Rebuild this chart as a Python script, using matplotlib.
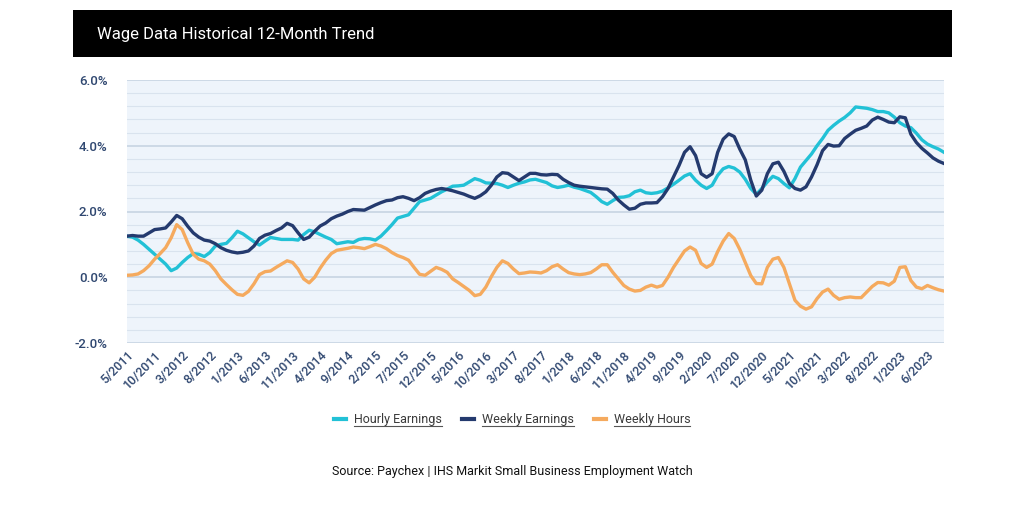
import numpy as np
import matplotlib
matplotlib.use('Agg')
import matplotlib.pyplot as plt
from matplotlib.patches import Rectangle
from matplotlib.lines import Line2D

plt.rcParams['font.family'] = ['Roboto', 'DejaVu Sans']

# monthly values, 5/2011 .. 9/2023 (percent, 12-month change)
hourly = [1.25, 1.22, 1.13, 1.0, 0.85, 0.7, 0.55, 0.4, 0.2, 0.28,
          0.45, 0.6, 0.72, 0.7, 0.63, 0.75, 0.95, 1.0, 1.03, 1.2,
          1.4, 1.32, 1.2, 1.08, 0.98, 1.1, 1.21, 1.18, 1.15, 1.15,
          1.15, 1.13, 1.3, 1.43, 1.38, 1.3, 1.22, 1.15, 1.02, 1.05,
          1.08, 1.06, 1.15, 1.18, 1.17, 1.13, 1.25, 1.42, 1.6, 1.8,
          1.85, 1.9, 2.1, 2.3, 2.35, 2.4, 2.5, 2.6, 2.68, 2.77,
          2.78, 2.8, 2.9, 3.0, 2.95, 2.87, 2.86, 2.85, 2.8, 2.73,
          2.8, 2.86, 2.9, 2.96, 2.98, 2.93, 2.88, 2.78, 2.73, 2.76,
          2.8, 2.74, 2.7, 2.64, 2.58, 2.45, 2.3, 2.22, 2.33, 2.43,
          2.44, 2.48, 2.6, 2.65, 2.57, 2.55, 2.57, 2.62, 2.72, 2.83,
          2.95, 3.08, 3.15, 2.95, 2.8, 2.7, 2.8, 3.1, 3.3, 3.37,
          3.32, 3.2, 2.98, 2.7, 2.52, 2.7, 2.9, 3.07, 3.0, 2.85,
          2.72, 3.0, 3.35, 3.55, 3.75, 4.0, 4.22, 4.47, 4.62, 4.75,
          4.86, 5.0, 5.18, 5.16, 5.14, 5.1, 5.04, 5.04, 5.0, 4.87,
          4.7, 4.6, 4.55, 4.38, 4.18, 4.05, 3.97, 3.9, 3.8]

weekly = [1.25, 1.27, 1.25, 1.25, 1.35, 1.45, 1.47, 1.5, 1.68, 1.88,
          1.78, 1.55, 1.35, 1.22, 1.13, 1.1, 1.02, 0.9, 0.82, 0.77,
          0.74, 0.76, 0.8, 0.95, 1.18, 1.28, 1.33, 1.42, 1.5, 1.64,
          1.57, 1.35, 1.15, 1.22, 1.4, 1.56, 1.65, 1.78, 1.86, 1.92,
          2.0, 2.06, 2.05, 2.04, 2.12, 2.2, 2.27, 2.33, 2.35, 2.42,
          2.45, 2.4, 2.33, 2.42, 2.55, 2.62, 2.67, 2.7, 2.67, 2.63,
          2.58, 2.53, 2.46, 2.4, 2.48, 2.6, 2.8, 3.05, 3.18, 3.16,
          3.05, 2.94, 3.05, 3.16, 3.16, 3.12, 3.11, 3.13, 3.12, 2.98,
          2.88, 2.8, 2.77, 2.75, 2.73, 2.71, 2.69, 2.68, 2.55, 2.35,
          2.2, 2.07, 2.1, 2.22, 2.26, 2.26, 2.27, 2.45, 2.7, 3.05,
          3.4, 3.8, 3.97, 3.7, 3.15, 3.04, 3.15, 3.8, 4.2, 4.36,
          4.28, 3.9, 3.57, 2.95, 2.47, 2.65, 3.15, 3.45, 3.5, 3.22,
          2.85, 2.7, 2.65, 2.75, 3.05, 3.42, 3.85, 4.04, 3.99, 4.0,
          4.22, 4.35, 4.47, 4.53, 4.6, 4.78, 4.87, 4.8, 4.72, 4.7,
          4.88, 4.85, 4.35, 4.1, 3.92, 3.78, 3.63, 3.53, 3.46]

hours = [0.06, 0.07, 0.1, 0.2, 0.35, 0.55, 0.72, 0.9, 1.2, 1.6,
         1.45, 1.05, 0.7, 0.55, 0.5, 0.4, 0.2, -0.05, -0.22, -0.38,
         -0.52, -0.55, -0.43, -0.2, 0.08, 0.17, 0.19, 0.3, 0.4, 0.5,
         0.45, 0.25, -0.05, -0.17, 0.0, 0.28, 0.52, 0.72, 0.82, 0.85,
         0.88, 0.92, 0.9, 0.87, 0.93, 1.0, 0.95, 0.87, 0.75, 0.66,
         0.6, 0.52, 0.3, 0.09, 0.06, 0.18, 0.3, 0.24, 0.15, -0.05,
         -0.16, -0.28, -0.4, -0.56, -0.52, -0.3, 0.02, 0.3, 0.5, 0.42,
         0.25, 0.11, 0.13, 0.16, 0.15, 0.13, 0.2, 0.32, 0.38, 0.25,
         0.14, 0.1, 0.08, 0.1, 0.14, 0.25, 0.38, 0.38, 0.15, -0.05,
         -0.25, -0.36, -0.42, -0.4, -0.3, -0.24, -0.3, -0.25, 0.0, 0.3,
         0.55, 0.8, 0.92, 0.82, 0.42, 0.3, 0.4, 0.78, 1.1, 1.33,
         1.18, 0.85, 0.45, 0.05, -0.19, -0.2, 0.3, 0.55, 0.6, 0.3,
         -0.2, -0.7, -0.88, -0.97, -0.9, -0.65, -0.45, -0.36, -0.55, -0.67,
         -0.62, -0.6, -0.62, -0.62, -0.45, -0.28, -0.16, -0.17, -0.24, -0.12,
         0.3, 0.32, -0.1, -0.3, -0.35, -0.25, -0.32, -0.38, -0.42]

tick_labels = ['5/2011', '10/2011', '3/2012', '8/2012', '1/2013', '6/2013',
               '11/2013', '4/2014', '9/2014', '2/2015', '7/2015', '12/2015',
               '5/2016', '10/2016', '3/2017', '8/2017', '1/2018', '6/2018',
               '11/2018', '4/2019', '9/2019', '2/2020', '7/2020', '12/2020',
               '5/2021', '10/2021', '3/2022', '8/2022', '1/2023', '6/2023']
series_names = ['Hourly Earnings', 'Weekly Earnings', 'Weekly Hours']
colors = ['#22c1d6', '#243a6e', '#f5aa5e']
navy_txt = '#2f4770'

fig = plt.figure(figsize=(10.24, 5.12), dpi=100)
fig.patch.set_facecolor('white')

# black header bar
fig.add_artist(Rectangle((73/1024, 1-57/512), (952-73)/1024, 47/512,
                         transform=fig.transFigure, facecolor='black', edgecolor='none'))
fig.text(97/1024, 1-34/512, 'Wage Data Historical 12-Month Trend', color='white',
         fontsize=12, va='center', ha='left')

ax = fig.add_axes([127/1024, 1-343/512, 817/1024, 263/512])
ax.set_facecolor('#eef4fb')
x = np.arange(len(hourly))
for vals, c, name in zip([hourly, weekly, hours], colors, series_names):
    ax.plot(x, vals, color=c, lw=2.4, label=name, solid_joinstyle='round')

ax.set_xlim(0, len(hourly) - 1)
ax.set_ylim(-2, 6)
ax.set_yticks([-2, 0, 2, 4, 6])
ax.set_yticklabels(['%.1f%%' % v for v in [-2, 0, 2, 4, 6]])
ax.set_yticks(np.arange(-2, 6.01, 0.4), minor=True)
ax.grid(which='major', axis='y', color='#c3d2e0', lw=1.1)
ax.grid(which='minor', axis='y', color='#d9e3ee', lw=0.8)
ax.set_axisbelow(True)
ax.set_xticks(np.arange(0, len(hourly), 5))
ax.set_xticklabels(tick_labels, rotation=45, ha='right', rotation_mode='anchor')
ax.tick_params(axis='both', which='both', length=0, colors=navy_txt)
ax.tick_params(axis='y', pad=14, labelsize=9.5)
ax.tick_params(axis='x', pad=4, labelsize=9)
for lab in ax.get_yticklabels() + ax.get_xticklabels():
    lab.set_fontweight('medium')
for s in ax.spines.values():
    s.set_visible(False)

handles = [Line2D([0], [0], color=c, lw=3) for c in colors]
leg = fig.legend(handles, series_names, loc='center', bbox_to_anchor=(0.5, 1-420/512),
                 ncol=3, frameon=False, handlelength=1.0, handletextpad=0.6,
                 columnspacing=1.6, fontsize=9)
for t in leg.get_texts():
    t.set_color('#3a3a3a')

fig.text(0.5, 1-471/512, 'Source: Paychex | IHS Markit Small Business Employment Watch',
         ha='center', va='center', fontsize=9, color='#111111')

# underline legend entries
fig.canvas.draw()
r = fig.canvas.get_renderer()
for t in leg.get_texts():
    bb = t.get_window_extent(r)
    yy = bb.y0 + 0.5
    fig.add_artist(Line2D([bb.x0, bb.x1], [yy, yy], transform=None,
                          color='#555555', lw=0.8))

fig.savefig('out.png', dpi=100)
